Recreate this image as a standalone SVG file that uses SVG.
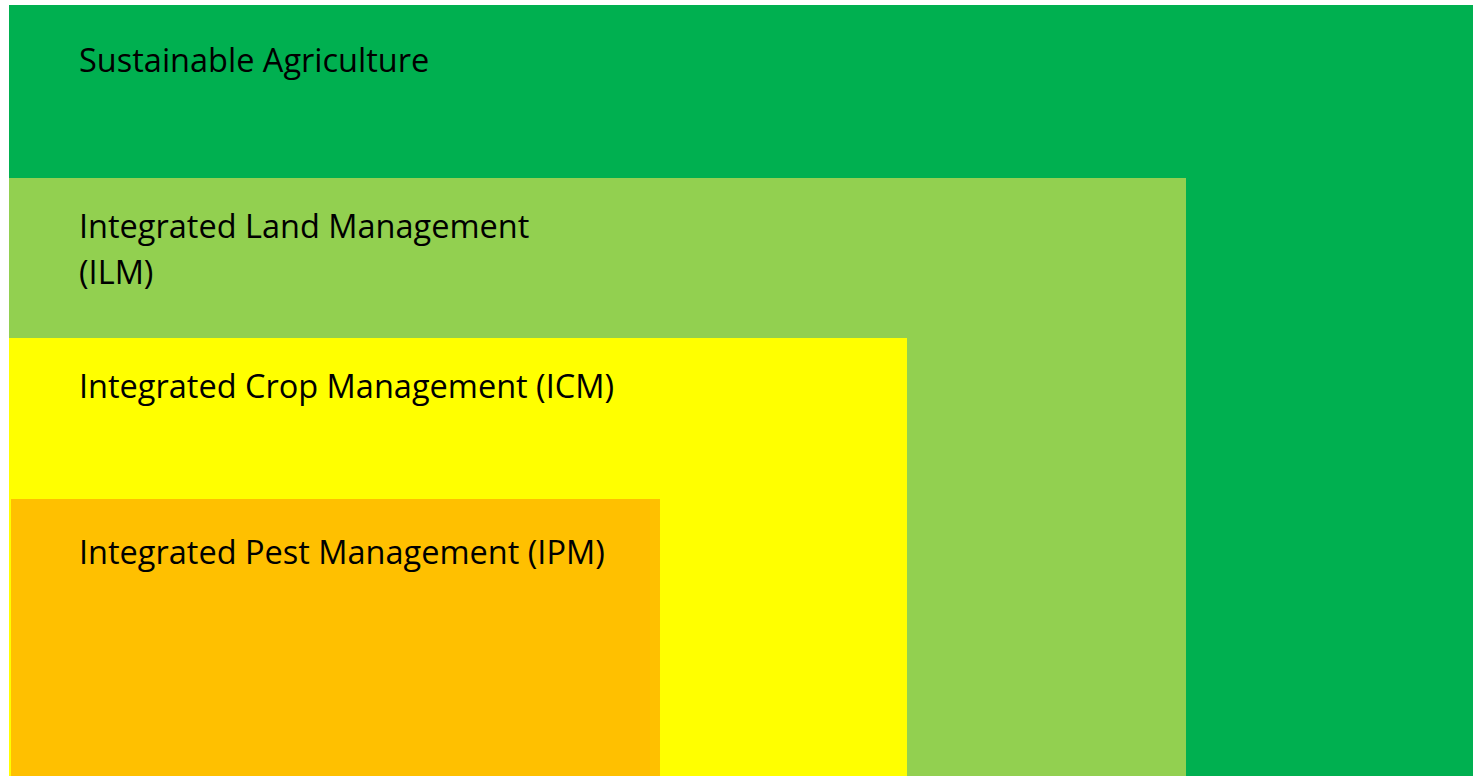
<svg xmlns="http://www.w3.org/2000/svg" width="1473" height="776" viewBox="0 0 1473 776">
<style>
text{font-family:"Open Sans","Noto Sans",sans-serif;font-size:32.5px;fill:#000}
</style>
<rect width="1473" height="776" fill="#fff"/>
<g id="sustainable-agriculture">
<rect x="9" y="5" width="1464" height="771" fill="#00B050"/>
<text x="79" y="72">Sustainable Agriculture</text>
</g>
<g id="ilm">
<rect x="9" y="178" width="1177" height="598" fill="#92D050"/>
<text x="79" y="238">Integrated Land Management</text>
<text x="79" y="284">(ILM)</text>
</g>
<g id="icm">
<rect x="9" y="338" width="898" height="438" fill="#FFFF00"/>
<text x="79" y="398">Integrated Crop Management (ICM)</text>
</g>
<g id="ipm">
<rect x="11" y="499" width="649" height="277" fill="#FFC000"/>
<text x="79" y="564">Integrated Pest Management (IPM)</text>
</g>
</svg>
